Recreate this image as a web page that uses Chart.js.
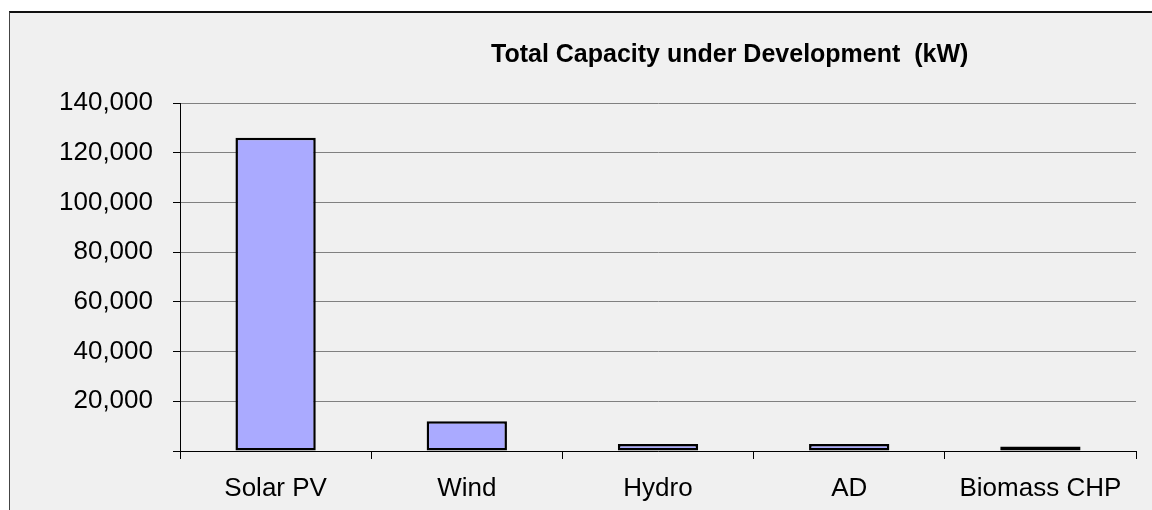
<!DOCTYPE html>
<html>
<head>
<meta charset="utf-8">
<script src="https://cdn.jsdelivr.net/npm/chart.js@4/dist/chart.umd.min.js"></script>
<style>
  html, body { margin: 0; padding: 0; background: #ffffff; overflow: hidden; }
  #frame {
    position: absolute; left: 9px; top: 11px; width: 1200px; height: 600px;
    background: #f0f0f0; border-top: 2px solid #111; border-left: 1px solid #444;
  }
  #wrap { position: absolute; left: 0; top: 0; width: 1152px; height: 510px; }
</style>
</head>
<body>
<div id="frame"></div>
<div id="wrap"><canvas id="chart" width="1152" height="510"></canvas></div>
<script>
// Capacity under development by technology (kW)
const categories = ['Solar PV', 'Wind', 'Hydro', 'AD', 'Biomass CHP'];
const capacityKW = [126000, 12000, 2800, 2800, 1800];
const titleText = 'Total Capacity under Development  (kW)';
const yMax = 140000;
const yStep = 20000;

const FONT = '"Liberation Sans", Arial, sans-serif';

// Title sits right of the plot centre, drawn above the plot area
const titlePlugin = {
  id: 'offsetTitle',
  afterDraw(chart) {
    const { ctx, chartArea } = chart;
    ctx.save();
    ctx.font = 'bold 25px ' + FONT;
    ctx.fillStyle = '#000';
    ctx.textAlign = 'center';
    ctx.textBaseline = 'alphabetic';
    const x = chartArea.left + (chartArea.right - chartArea.left) * 0.575;
    ctx.fillText(titleText, x, chartArea.top - 41);
    ctx.restore();
  }
};

new Chart(document.getElementById('chart'), {
  type: 'bar',
  data: {
    labels: categories,
    datasets: [{
      data: capacityKW,
      backgroundColor: '#aaaaff',
      borderColor: '#000000',
      borderWidth: 2.5,
      borderSkipped: false,
      categoryPercentage: 1,
      barPercentage: 0.42
    }]
  },
  options: {
    responsive: false,
    animation: false,
    layout: { padding: { top: 103, right: 16, left: 0, bottom: 0 } },
    plugins: { legend: { display: false }, tooltip: { enabled: false } },
    scales: {
      x: {
        grid: {
          offset: true, drawOnChartArea: false, drawTicks: true,
          tickLength: 8, tickColor: '#000', lineWidth: 1
        },
        border: { display: true, color: '#000', width: 1 },
        ticks: { color: '#000', font: { family: FONT, size: 26 }, padding: 14, maxRotation: 0 },
        afterFit(scale) { scale.height = 59; }
      },
      y: {
        min: 0, max: yMax,
        grid: { color: '#808080', lineWidth: 1, drawTicks: true, tickLength: 7, tickColor: '#000' },
        border: { display: true, color: '#000', width: 1 },
        ticks: {
          stepSize: yStep, color: '#000', padding: 20,
          font: { family: FONT, size: 26 },
          callback: v => v === 0 ? '' : v.toLocaleString('en-US')
        },
        afterFit(scale) { scale.width = 180; }
      }
    }
  },
  plugins: [titlePlugin]
});
</script>
</body>
</html>
